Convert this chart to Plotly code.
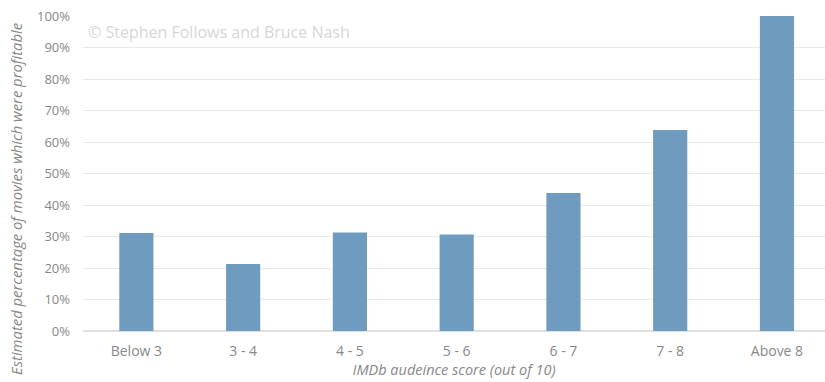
import plotly.graph_objects as go

categories = ["Below 3", "3 - 4", "4 - 5", "5 - 6", "6 - 7", "7 - 8", "Above 8"]
profitable_pct = [31.1, 21.3, 31.3, 30.6, 43.8, 63.8, 100.0]
y_ticks = [0, 10, 20, 30, 40, 50, 60, 70, 80, 90, 100]
y_tick_labels = [f"{v}%" for v in y_ticks]

fig = go.Figure()
fig.add_trace(go.Bar(
    x=categories,
    y=profitable_pct,
    marker=dict(color="#6f9bbe", line=dict(width=0)),
    width=0.32,
))

fig.update_layout(
    width=825, height=382,
    margin=dict(l=83, r=0, t=16, b=51),
    paper_bgcolor="white",
    plot_bgcolor="white",
    font=dict(family="Open Sans, sans-serif", color="#8a8a8a", size=13),
    showlegend=False,
    xaxis=dict(
        range=[-0.5, 6.45],
        showgrid=False,
        showline=False,
        ticks="",
        ticklabelstandoff=10,
        tickfont=dict(size=14, color="#888888"),
        title=dict(text="IMDb audeince score (out of 10)",
                   font=dict(size=14.5, color="#888888", style="italic"),
                   standoff=3),
    ),
    yaxis=dict(
        range=[0, 100],
        tickvals=y_ticks,
        ticktext=y_tick_labels,
        showgrid=True,
        gridcolor="#e9e9e9",
        gridwidth=1,
        zeroline=True,
        zerolinecolor="#e0e0e0",
        ticks="",
        ticklabelstandoff=12,
        tickfont=dict(size=13, color="#888888"),
    ),
)

fig.add_annotation(
    text="Estimated percentage of movies which were profitable",
    xref="paper", yref="paper",
    x=-0.0903, y=0.419, xanchor="center", yanchor="middle",
    textangle=-90, showarrow=False,
    font=dict(size=14.8, color="#888888", style="italic"),
)

fig.add_annotation(
    text="© Stephen Follows and Bruce Nash",
    xref="paper", yref="paper",
    x=0.004, y=0.95, xanchor="left", yanchor="middle",
    showarrow=False,
    font=dict(size=16, color="#d6d6d6"),
)

fig.write_html("out.html")
